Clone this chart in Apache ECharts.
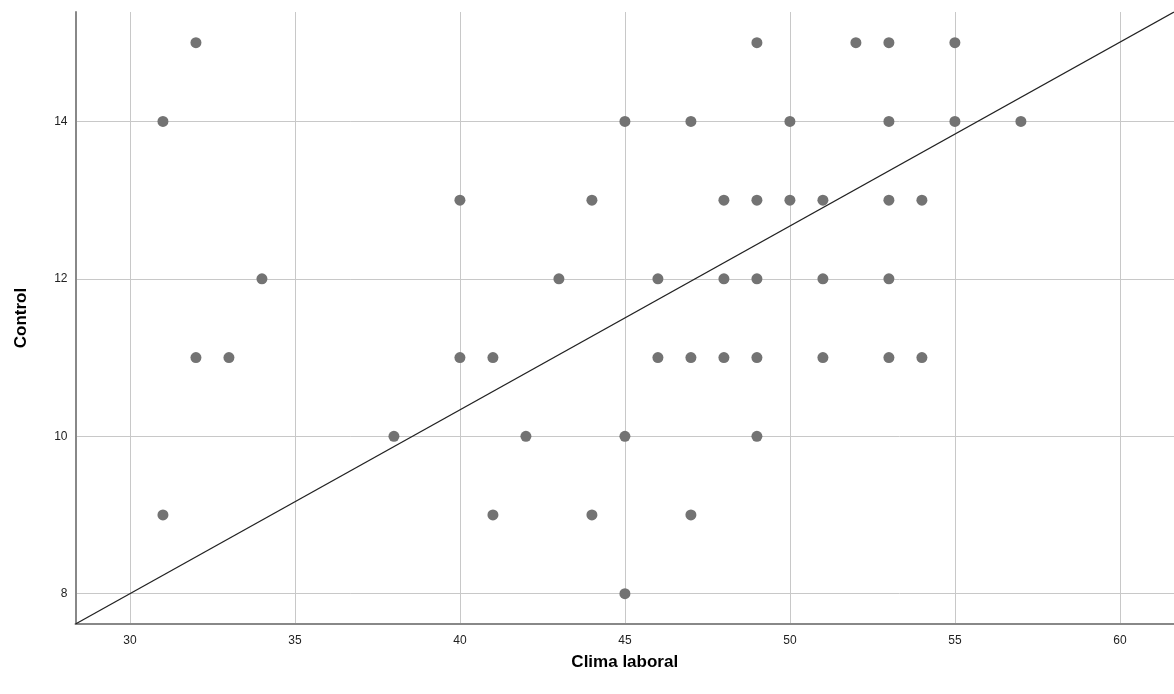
<!DOCTYPE html>
<html>
<head>
<meta charset="utf-8">
<script src="https://cdn.jsdelivr.net/npm/echarts@6/dist/echarts.min.js"></script>
<style>html,body{margin:0;padding:0;background:#fff}#c{width:1174px;height:694px}</style>
</head>
<body>
<div id="c"></div>
<script>
// Data: [Clima laboral, Control]
var climaLaboral = [32,49,52,53,55, 31,45,47,50,53,55,57, 40,44,48,49,50,51,53,54, 34,43,46,48,49,51,53, 32,33,40,41,46,47,48,49,51,53,54, 38,42,45,49, 31,41,44,47, 45];
var control =      [15,15,15,15,15, 14,14,14,14,14,14,14, 13,13,13,13,13,13,13,13, 12,12,12,12,12,12,12, 11,11,11,11,11,11,11,11,11,11,11, 10,10,10,10, 9,9,9,9, 8];
var xRange = [28.35, 61.64];
var yRange = [7.615, 15.39];
// Reference line endpoints (corner to corner)
var refLineX = [28.35, 61.64];
var refLineY = [7.615, 15.39];

var pts = climaLaboral.map(function(x, i){ return [x, control[i]]; });
var linePts = refLineX.map(function(x, i){ return [x, refLineY[i]]; });

var chart = echarts.init(document.getElementById('c'));
chart.setOption({
  animation: false,
  backgroundColor: '#ffffff',
  grid: {left: 75.5, top: 12, right: 0, bottom: 70, containLabel: false},
  xAxis: {
    type: 'value', min: xRange[0], max: xRange[1],
    name: 'Clima laboral', nameLocation: 'middle', nameGap: 30,
    nameTextStyle: {fontFamily: 'Liberation Sans', fontWeight: 'bold', fontSize: 17, color: '#000'},
    axisLine: {show: true, onZero: false, lineStyle: {color: '#888888', width: 2}},
    axisTick: {show: false},
    axisLabel: {showMinLabel: false, showMaxLabel: false, fontFamily: 'Liberation Sans', fontSize: 12, color: '#222', margin: 11},
    splitLine: {show: true, showMinLine: false, showMaxLine: false, lineStyle: {color: '#c8c8c8', width: 1}}
  },
  yAxis: {
    type: 'value', min: yRange[0], max: yRange[1],
    name: 'Control', nameLocation: 'middle', nameGap: 46, nameRotate: 90,
    nameTextStyle: {fontFamily: 'Liberation Sans', fontWeight: 'bold', fontSize: 17, color: '#000'},
    axisLine: {show: true, onZero: false, lineStyle: {color: '#888888', width: 2}},
    axisTick: {show: false},
    axisLabel: {showMinLabel: false, showMaxLabel: false, fontFamily: 'Liberation Sans', fontSize: 12, color: '#222', margin: 8},
    splitLine: {show: true, showMinLine: false, showMaxLine: false, lineStyle: {color: '#c8c8c8', width: 1}}
  },
  series: [
    {
      type: 'line', data: linePts, symbol: 'none', silent: true,
      lineStyle: {color: '#222222', width: 1.3}, z: 3
    },
    {
      type: 'scatter', data: pts, symbol: 'circle', symbolSize: 11,
      itemStyle: {color: '#737373', opacity: 1}, z: 4
    }
  ]
});
</script>
</body>
</html>
